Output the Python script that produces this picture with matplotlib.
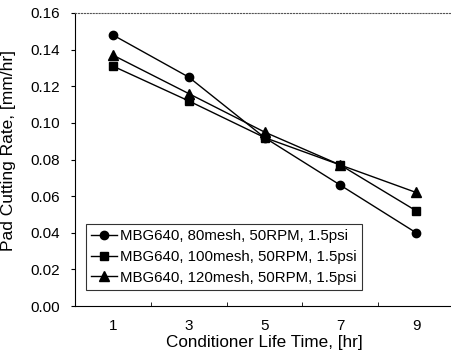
import matplotlib.pyplot as plt
import numpy as np

plt.rcParams['font.family'] = ['Liberation Sans', 'DejaVu Sans']

life_time = ['1', '3', '5', '7', '9']
mesh80 = [0.148, 0.125, 0.092, 0.066, 0.040]
mesh100 = [0.131, 0.112, 0.092, 0.077, 0.052]
mesh120 = [0.137, 0.116, 0.095, 0.077, 0.062]
labels = ['MBG640, 80mesh, 50RPM, 1.5psi',
          'MBG640, 100mesh, 50RPM, 1.5psi',
          'MBG640, 120mesh, 50RPM, 1.5psi']
y_ticks = [0.00, 0.02, 0.04, 0.06, 0.08, 0.10, 0.12, 0.14, 0.16]

W, H = 451, 359
fig = plt.figure(figsize=(W / 100, H / 100), dpi=100)
ax = fig.add_axes([75 / W, (H - 306) / H, 379 / W, 293 / H])

x = np.arange(len(life_time))
for vals, mk, ms, lab in zip([mesh80, mesh100, mesh120], ['o', 's', '^'], [6, 6, 7], labels):
    ax.plot(x, vals, color='black', lw=1.0, marker=mk, ms=ms, label=lab)

ax.set_xlim(-0.5, len(life_time) - 0.5)
ax.set_ylim(0, 0.16)
ax.set_yticks(y_ticks)
ax.set_yticklabels(['%.2f' % v for v in y_ticks], fontsize=11)
ax.set_xticks(x)
ax.set_xticklabels(life_time, fontsize=11)
ax.set_xticks(np.arange(-0.5, len(life_time), 1.0), minor=True)
ax.tick_params(axis='x', which='major', length=0, pad=9)
ax.tick_params(axis='x', which='minor', direction='in', length=3)
ax.tick_params(axis='y', direction='out', length=3, pad=8)

ax.spines['right'].set_visible(False)
ax.spines['top'].set_linestyle(':')
ax.spines['top'].set_color('#555555')
ax.spines['top'].set_linewidth(0.8)

ax.set_xlabel('Conditioner Life Time, [hr]', fontsize=12.3, labelpad=2)
ax.set_ylabel('Pad Cutting Rate, [mm/hr]', fontsize=12.5)
ax.yaxis.set_label_coords(-0.155, 0.53)

leg = ax.legend(loc='lower left', bbox_to_anchor=(0.029, 0.055), fontsize=10.8,
                frameon=True, fancybox=False, edgecolor='black', handlelength=1.7,
                handletextpad=0.2, borderpad=0.35, labelspacing=0.45, borderaxespad=0)
leg.get_frame().set_linewidth(0.8)

fig.savefig('out.png', dpi=100)
